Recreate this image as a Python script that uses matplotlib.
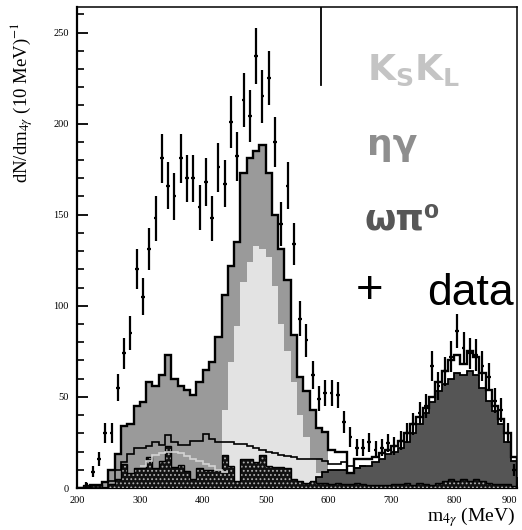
import numpy as np
import matplotlib
matplotlib.use("Agg")
import matplotlib.pyplot as plt

# 10 MeV bins from 200 to 900 MeV
edges = np.arange(200, 901, 10)
centers = edges[:-1] + 5

# measured counts per bin (nan = no point)
data = [np.nan, 2, 9, 16, 30, 30, 55, 74, 85, 120,
        105, 131, 148, 181, 166, 160, 181, 170, 170, 154,
        168, 148, 176, 167, 201, 182, 213, 204, 237, 215,
        225, 190, 145, 166, 134, 93, 81, 62, 49, 52,
        52, 51, 36, 28, 22, 22, 25, 21, 22, 24.5,
        23, 26, 30, 35, 41, 45, 67, 56, 64, 72,
        86, 77, 74, 73, 67, 61, 48, 43, 30, 10]

# total MC outline
total = [0, 0, 1.5, 1.5, 3.5, 10, 18.5, 34, 35, 45,
         47, 58, 56, 62, 73, 60, 56, 54, 51, 58,
         64.5, 69, 83, 106, 122, 135, 173, 181, 185, 188,
         173, 150, 131, 114, 84, 61, 53, 43, 33, 31,
         21, 20, 20, 8, 16, 16, 16, 17, 19, 21,
         23, 26, 30, 35, 39, 44, 50, 58, 64, 70,
         73, 68, 75, 72, 63, 54, 45, 38, 30, 17]

# K_S K_L (light gray)
kskl = [0] * 23 + [43, 69, 89, 113, 124, 133, 131,
                   127, 111, 90, 75, 58, 40, 28, 16, 8, 3] + [0] * 30

# omega pi0 (dark gray)
omega = [0] * 37 + [3, 6, 9,
                    10, 10, 10, 8, 11, 12, 12, 14, 16, 18.7,
                    20, 22, 25.4, 30, 35, 41, 47, 53, 57, 60,
                    63, 62, 64, 62, 55, 48, 42, 35, 25, 15]

# other background (black, dotted)
other = [0, 1.5, 1.5, 1.5, 0, 2, 5, 13, 8, 11,
         11, 17, 11, 15, 23, 11.5, 12.5, 9.5, 5, 11,
         10, 10, 10, 18, 12, 4, 16, 16, 14, 18,
         12, 11.5, 11.5, 11, 5, 4, 3, 4, 3, 3,
         2, 3, 2, 2, 3, 2, 1.5, 1.5, 1.5, 1.5,
         2, 2, 2.5, 1.5, 3, 2, 1.5, 3, 4, 5,
         4, 5, 4, 5, 4, 3, 2, 2, 2, 1]

# thin black outline, 200-660 MeV
bkg_line = [0, 0, 0, 0, 0, 4, 10, 14, 18.6, 21.8,
            21.8, 23, 25.4, 23.6, 29, 25.4, 23.6, 23.6, 26, 26,
            29.5, 27, 25.5, 25.5, 25, 24, 24, 23, 22, 21,
            20, 19, 18, 17.5, 17, 16, 16, 16, 16, 15,
            13, 13, 14, 12, 11, 12]
# thin light line, 300-440 MeV
light_line = [12, 15, 18, 19, 20, 20, 19, 17.5, 16, 15, 13, 12, 10, 9]

plt.rcParams['mathtext.fontset'] = 'stix'
plt.rcParams['hatch.color'] = '#b0b0b0'
plt.rcParams['hatch.linewidth'] = 0.8
fig = plt.figure(figsize=(5.22, 5.30), dpi=100)
ax = fig.add_axes([77/522, 1 - 488/530, 440/522, 481/530])

total = np.array(total)
eta_fill = np.where(edges[:-1] < 600, total, 0)

ax.stairs(eta_fill, edges, fill=True, facecolor='#9a9a9a', edgecolor='none', zorder=1)
ax.stairs(kskl, edges, fill=True, facecolor='#e3e3e3', edgecolor='none', zorder=2)
ax.stairs(omega, edges, fill=True, facecolor='#555555', edgecolor='none', zorder=3)
ax.stairs(omega, edges, color='k', lw=1.3, zorder=3.5)
ax.stairs(other, edges, fill=True, facecolor='#111111', edgecolor='#b0b0b0',
          hatch='....', lw=0, zorder=4)
ax.stairs(other, edges, color='k', lw=1.0, zorder=4.5)
ax.stairs(bkg_line, edges[:len(bkg_line) + 1], color='k', lw=1.2, zorder=5, baseline=None)
ax.stairs(light_line, edges[10:10 + len(light_line) + 1], color='#d4d4d4', lw=1.2,
          zorder=5, baseline=None)
ax.stairs(total, edges, color='k', lw=1.7, zorder=6)

data = np.array(data)
ax.errorbar(centers, data, yerr=np.sqrt(data), xerr=3, fmt='none', ecolor='k',
            elinewidth=1.6, capsize=0, zorder=7)

# stray vertical line in the original figure
ax.plot([588, 588], [221, 270], color='k', lw=1.3, zorder=8)

ax.set_xlim(200, 900)
ax.set_ylim(0, 264)
ax.set_xticks(range(200, 901, 100))
ax.set_yticks(range(0, 251, 50))
ax.set_yticks(range(0, 261, 10), minor=True)
ax.tick_params(direction='in', length=8, width=1.3, labelsize=7.5, pad=6)
ax.tick_params(which='minor', direction='in', length=5, width=1.2)
for lab in ax.get_xticklabels() + ax.get_yticklabels():
    lab.set_family('Liberation Serif')
ax.get_xticklabels()[-1].set_horizontalalignment('right')
for side in ['left', 'bottom']:
    ax.spines[side].set_linewidth(1.6)
for side in ['top', 'right']:
    ax.spines[side].set_linewidth(1.1)

fig.text(22/522, 1 - 103/530, r'dN/dm$_{4\gamma}$ (10 MeV)$^{-1}$', rotation=90,
         ha='center', va='center', family='Liberation Serif', fontsize=13.5)
fig.text(515/522, 1 - 529/530, r'm$_{4\gamma}$ (MeV)', ha='right', va='bottom',
         family='Liberation Serif', fontsize=14)

fig.text(367/522, 1 - 80/530, r'$\mathbf{K_S K_L}$', color='#c4c4c4', fontsize=26,
         math_fontfamily='dejavusans', va='baseline')
fig.text(367/522, 1 - 155/530, 'ηγ', color='#8e8e8e', fontsize=26,
         fontweight='bold', family='DejaVu Sans', va='baseline')
fig.text(365/522, 1 - 230/530, 'ωπ⁰', color='#575757', fontsize=26,
         fontweight='bold', family='DejaVu Sans', va='baseline')
fig.text(356/522, 1 - 303/530, '+', color='k', fontsize=34,
         family='Liberation Sans', va='baseline')
fig.text(427/522, 1 - 305/530, 'data', color='k', fontsize=32,
         family='Liberation Sans', va='baseline')

fig.savefig('out.png', dpi=100)
